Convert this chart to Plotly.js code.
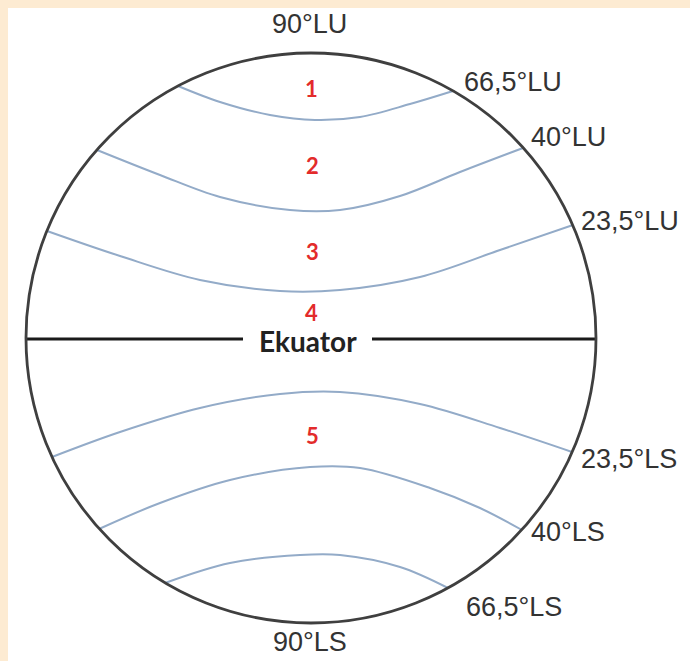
<!DOCTYPE html>
<html>
<head>
<meta charset="utf-8">
<script src="https://cdn.plot.ly/plotly-3.0.1.min.js"></script>
<style>
html,body{margin:0;padding:0;background:#ffffff;}
#chart{width:690px;height:661px;}
</style>
</head>
<body>
<div id="chart"></div>
<script>
// Globe radius (picture units) and latitude curves
const globeRadius = 285;

const lat665N_x = [-133, -91, -41, 4, 49, 99, 142];
const lat665N_y = [252, 236, 223, 218, 221, 234, 247];

const lat40N_x = [-214, -151, -91, -21, 29, 89, 149, 212];
const lat40N_y = [188, 163, 141, 128, 128, 142, 166, 190];

const lat235N_x = [-264, -191, -111, -31, 29, 109, 189, 262];
const lat235N_y = [107, 82, 58, 47, 48, 61, 88, 113];

const lat235S_x = [-259, -191, -111, -31, 29, 109, 189, 261];
const lat235S_y = [-119, -94, -70, -56, -54, -66, -90, -114];

const lat40S_x = [-212, -151, -81, -1, 49, 119, 169, 211];
const lat40S_y = [-191, -165, -142, -129, -130, -150, -170, -192];

const lat665S_x = [-146, -81, -11, 29, 89, 137];
const lat665S_y = [-245, -225, -217, -217, -229, -250];

// Equator (with a gap for its label)
const equatorX = [-285, -68, null, 61, 285];
const equatorY = [-1, -1, null, -1, -1];

// Latitude labels and their anchor points
const latLabels = ["90°LU", "66,5°LU", "40°LU", "23,5°LU", "23,5°LS", "40°LS", "66,5°LS", "90°LS"];
const latLabelX = [-2, 151, 218, 268, 268, 218, 153, -1];
const latLabelY = [314, 256, 201, 117, -121, -194, -269, -304];
const latLabelAnchor = ["center", "left", "left", "left", "left", "left", "left", "center"];

// Zone numbers
const zoneLabels = ["1", "2", "3", "4", "5"];
const zoneX = [0, 1, 1, 0, 1];
const zoneY = [250, 173, 87, 26, -97];

const curveColor = "#93abc8";
const curves = [
  [lat665N_x, lat665N_y], [lat40N_x, lat40N_y], [lat235N_x, lat235N_y],
  [lat235S_x, lat235S_y], [lat40S_x, lat40S_y], [lat665S_x, lat665S_y]
];

const traces = curves.map(c => ({
  type: "scatter", mode: "lines", x: c[0], y: c[1],
  line: {color: curveColor, width: 2, shape: "spline", smoothing: 1},
  hoverinfo: "skip"
}));

traces.push({
  type: "scatter", mode: "lines", x: equatorX, y: equatorY,
  line: {color: "#1a1a1a", width: 2.8}, hoverinfo: "skip", connectgaps: false
});

const annotations = [];
latLabels.forEach((t, i) => {
  annotations.push({
    x: latLabelX[i], y: latLabelY[i], xref: "x", yref: "y", text: t, showarrow: false,
    xanchor: latLabelAnchor[i], yanchor: "middle",
    font: {family: "Liberation Sans, Arial, sans-serif", size: 27, color: "#333333"}
  });
});
zoneLabels.forEach((t, i) => {
  annotations.push({
    x: zoneX[i], y: zoneY[i], xref: "x", yref: "y", text: "<b>" + t + "</b>", showarrow: false,
    xanchor: "center", yanchor: "middle",
    font: {family: "Lato, Open Sans, sans-serif", size: 22, color: "#e32b2b"}
  });
});
annotations.push({
  x: -3, y: -3, xref: "x", yref: "y", text: "<b>Ekuator</b>", showarrow: false,
  xanchor: "center", yanchor: "middle",
  font: {family: "Lato, Open Sans, sans-serif", size: 28, color: "#222222"}
});

const layout = {
  width: 690, height: 661,
  margin: {l: 0, r: 0, t: 0, b: 0, pad: 0},
  paper_bgcolor: "#ffffff", plot_bgcolor: "#ffffff",
  showlegend: false,
  xaxis: {range: [-311, 379], visible: false, fixedrange: true},
  yaxis: {range: [-323, 338], visible: false, fixedrange: true},
  shapes: [
    {type: "rect", xref: "paper", yref: "paper", x0: 0, x1: 8/690, y0: 0, y1: 1,
     fillcolor: "#fdebd2", line: {width: 0}, layer: "below"},
    {type: "rect", xref: "paper", yref: "paper", x0: 0, x1: 1, y0: 1 - 8/661, y1: 1,
     fillcolor: "#fdebd2", line: {width: 0}, layer: "below"},
    {type: "circle", xref: "x", yref: "y", x0: -globeRadius, x1: globeRadius, y0: -globeRadius, y1: globeRadius,
     line: {color: "#3f3f3f", width: 2.8}}
  ],
  annotations: annotations
};

Plotly.newPlot("chart", traces, layout, {staticPlot: true, displayModeBar: false});
</script>
</body>
</html>
